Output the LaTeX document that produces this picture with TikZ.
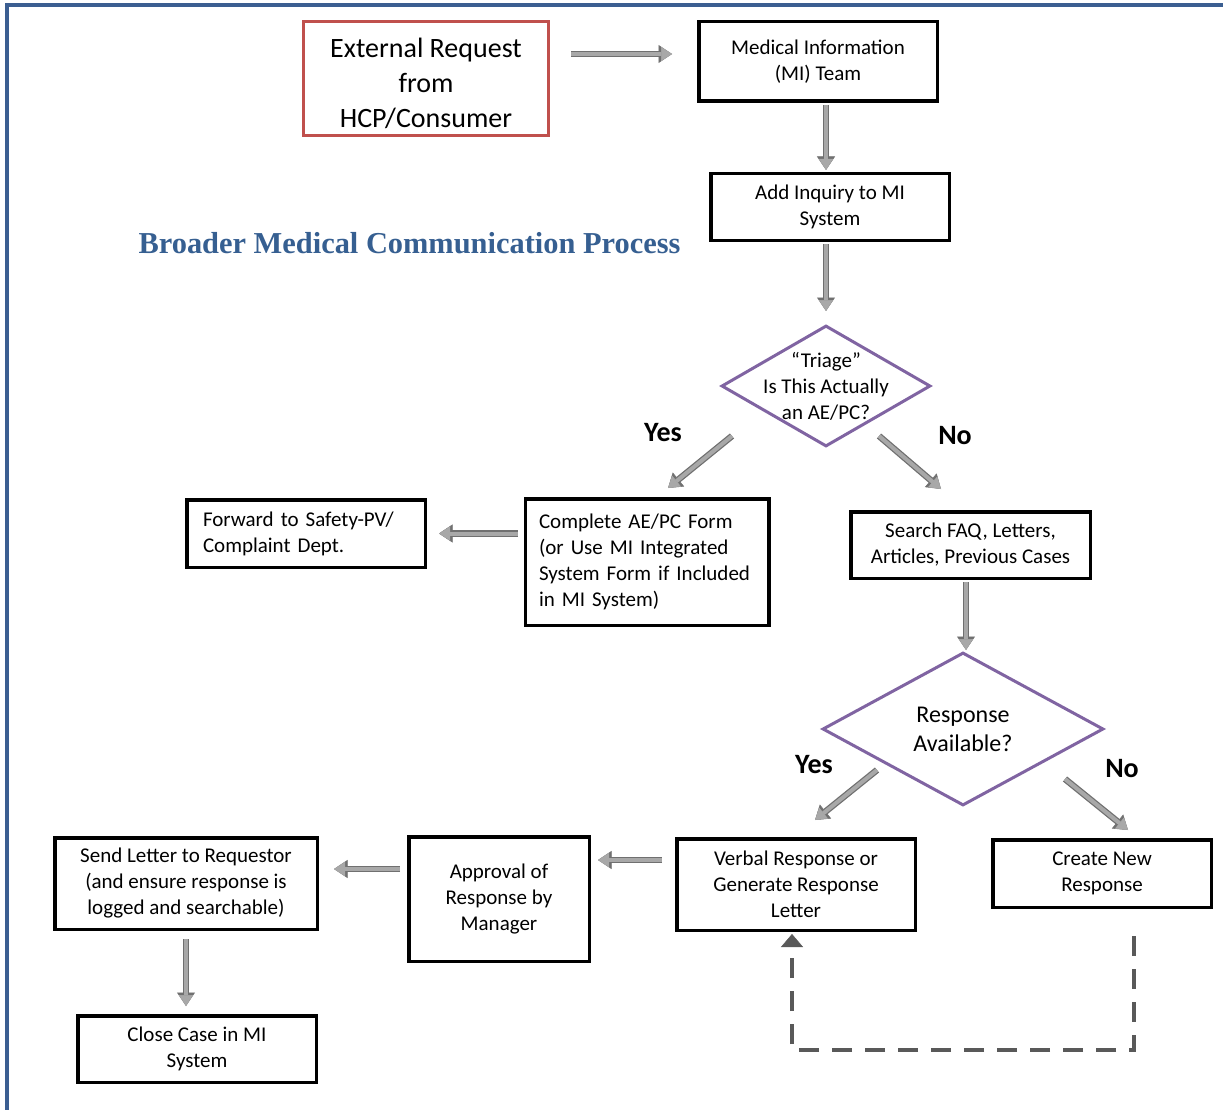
\documentclass[tikz,border=0pt]{standalone}
\usepackage{fontspec}
\setmainfont{Carlito}
\newfontfamily\titlefont{Liberation Serif}
\usetikzlibrary{arrows.meta,shapes.geometric,calc}
\definecolor{framecol}{RGB}{59,94,145}
\definecolor{titlecol}{RGB}{54,95,145}
\definecolor{redcol}{RGB}{192,80,77}
\definecolor{purplecol}{RGB}{128,100,162}
\definecolor{arrowfill}{RGB}{168,168,168}
\definecolor{arrowedge}{RGB}{112,112,112}
\definecolor{dashgray}{RGB}{89,89,89}
\tikzset{
  box/.style={draw=black, line width=3.5pt, inner sep=0pt, align=center,
    font=\fontsize{21}{26}\selectfont},
  redbox/.style={box, draw=redcol, line width=3pt},
  leftbox/.style={box, align=left},
  dia/.style={diamond, draw=purplecol, line width=3pt, inner sep=0pt},
  dtext/.style={align=center, font=\fontsize{21}{26}\selectfont},
  lbl/.style={font=\fontsize{28}{32}\selectfont\bfseries},
  titlestyle/.style={font=\titlefont\fontsize{30.4}{34}\selectfont\bfseries, text=titlecol},
  blockarrow/.style={draw=arrowfill, line width=4pt,
    -{Triangle[length=11pt,width=14pt,line width=0.5pt]},
    preaction={draw=arrowedge, line width=6.5pt,
      -{Triangle[length=13.5pt,width=18pt,line width=0.5pt]}}},
  dashconn/.style={draw=dashgray, line width=3.5pt, dash pattern=on 20pt off 13pt,
    -{Triangle[length=13pt,width=22pt,line width=0.5pt]}},
}
\begin{document}
\begin{tikzpicture}[x=1pt,y=-1pt]
\useasboundingbox (0,0) rectangle (1223,1110);
% frame
\draw[framecol, line width=4pt] (7,1130) -- (7,5) -- (1240,5);

% title
\node[titlestyle, anchor=base] (title) at (409.5,253) {Broader Medical Communication Process};

% boxes
\node[redbox, minimum width=245pt, minimum height=114pt,
  label={[align=center, font=\fontsize{28}{35}\selectfont, yshift=-4.5pt]center:{External Request\\from\\HCP/Consumer}}]
  (ext) at (426,78.5) {};
\node[box, minimum width=238.5pt, minimum height=79.5pt] (mi) at (818,61.5)
  {Medical Information\\(MI) Team};
\node[box, minimum width=238.5pt, minimum height=66.5pt] (add) at (830,207)
  {Add Inquiry to MI\\System};
\node[dia, minimum width=209pt, minimum height=121pt,
  label={[dtext]center:{``Triage''\\Is This Actually\\an AE/PC?}}] (triage) at (826,386) {};
\node[leftbox, minimum width=238.5pt, minimum height=67.5pt, text width=206pt] (fwd) at (306,533.5)
  {Forward to Safety-PV/\\Complaint Dept.};
\node[leftbox, minimum width=243.5pt, minimum height=126.5pt, text width=216pt] (comp) at (647,562)
  {Complete AE/PC Form\\(or Use MI Integrated\\System Form if Included\\in MI System)};
\node[box, minimum width=239.5pt, minimum height=66.5pt] (search) at (970.5,545)
  {Search FAQ, Letters,\\Articles, Previous Cases};
\node[dia, minimum width=281pt, minimum height=153pt,
  label={[align=center, font=\fontsize{24}{29}\selectfont]center:{Response\\Available?}}] (resp) at (963,729) {};
\node[box, minimum width=238.5pt, minimum height=91.5pt] (verbal) at (796,884.5)
  {Verbal Response or\\Generate Response\\Letter};
\node[box, minimum width=218.5pt, minimum height=67.5pt] (create) at (1102,873.5)
  {Create New\\Response};
\node[box, minimum width=180.5pt, minimum height=124.5pt] (approval) at (499,899)
  {Approval of\\Response by\\Manager};
\node[box, minimum width=262.5pt, minimum height=91.5pt] (send) at (186,883.5)
  {Send Letter to Requestor\\(and ensure response is\\logged and searchable)};
\node[box, minimum width=238.5pt, minimum height=66.5pt] (close) at (197,1049)
  {Close Case in MI\\System};

% branch labels
\node[lbl] (yes1) at (663,433) {Yes};
\node[lbl] (no1) at (955,436) {No};
\node[lbl] (yes2) at (814,765) {Yes};
\node[lbl] (no2) at (1122,769) {No};

% branch arrow end points
\coordinate (ty1) at (732,436);
\coordinate (ty2) at (668,488);
\coordinate (tn1) at (879,436);
\coordinate (tn2) at (941,489);
\coordinate (ry1) at (877,770);
\coordinate (ry2) at (815,820);
\coordinate (rn1) at (1065,779);
\coordinate (rn2) at (1128,830);

% connectors
\draw[blockarrow, shorten <=21pt, shorten >=25pt]
  ($(ext.east |- mi.west)+(0,-7.5)$) -- ($(mi.west)+(0,-7.5)$);
\draw[blockarrow, shorten <=2pt, shorten >=2pt] (mi.south -| triage.north) -- (add.north -| triage.north);
\draw[blockarrow, shorten <=2pt, shorten >=13pt] (add.south -| triage.north) -- (triage.north);
\draw[blockarrow] (ty1) -- (ty2);
\draw[blockarrow] (tn1) -- (tn2);
\draw[blockarrow, shorten <=6pt, shorten >=12pt] (comp.west |- fwd.east) -- (fwd.east);
\draw[blockarrow, shorten <=2pt, shorten >=1pt] ($(search.south)+(-4.5,0)$) -- ($(resp.north)+(3,0)$);
\draw[blockarrow] (ry1) -- (ry2);
\draw[blockarrow] (rn1) -- (rn2);
\draw[blockarrow, shorten <=13pt, shorten >=7pt]
  ($(verbal.west)+(0,-24.5)$) -- ($(approval.east)+(0,-39)$);
\draw[blockarrow, shorten <=7pt, shorten >=15pt]
  ($(approval.west)+(0,-30)$) -- ($(send.east)+(0,-14.5)$);
\draw[blockarrow, shorten <=8pt, shorten >=8pt] (send.south) -- (send.south |- close.north);
\draw[dashconn, shorten <=27pt, shorten >=2pt]
  ($(create.south)+(32,0)$) -- ($(create.south)+(32,141)$) -| ($(verbal.south)+(-4,0)$);
\end{tikzpicture}
\end{document}
